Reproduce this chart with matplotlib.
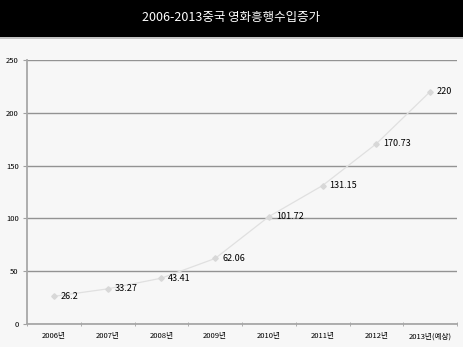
import matplotlib
matplotlib.use("Agg")
import matplotlib.pyplot as plt
from matplotlib.patches import Rectangle

plt.rcParams['font.family'] = ['Noto Sans CJK KR', 'DejaVu Sans']

categories = ['2006년', '2007년', '2008년', '2009년', '2010년', '2011년', '2012년', '2013년(예상)']
values = [26.2, 33.27, 43.41, 62.06, 101.72, 131.15, 170.73, 220]
labels = ['26.2', '33.27', '43.41', '62.06', '101.72', '131.15', '170.73', '220']
yticks = [0, 50, 100, 150, 200, 250]
title = '2006-2013중국 영화흥행수입증가'

W, H = 463, 347
fig = plt.figure(figsize=(W/100, H/100), dpi=100, facecolor='#f7f7f7')

# title band
fig.patches.append(Rectangle((0, 1 - 37/H), 1, 37/H, transform=fig.transFigure,
                             facecolor='black', edgecolor='none', zorder=0))
fig.patches.append(Rectangle((0, 1 - 39/H), 1, 2/H, transform=fig.transFigure,
                             facecolor='#c4c4c4', edgecolor='none', zorder=0))
fig.text(231/W, 1 - 17/H, title, color='white', fontsize=9, ha='center', va='center')

ax = fig.add_axes([27/W, 1 - 324/H, 430/W, (324 - 60)/H])
ax.set_facecolor('#f7f7f7')
x = list(range(len(categories)))
ax.plot(x, values, color='#e0e0e0', lw=0.9, marker='D', ms=2.8,
        markerfacecolor='#d8d8d8', markeredgecolor='#d8d8d8', zorder=3)
for xi, v, lab in zip(x, values, labels):
    ax.annotate(lab, (xi, v), xytext=(5, 0), textcoords='offset points',
                fontsize=6.5, va='center', ha='left', color='black', zorder=4)

ax.set_xlim(-0.5, len(categories) - 0.5)
ax.set_ylim(0, 250)
ax.set_yticks(yticks)
ax.set_yticklabels([str(t) for t in yticks], fontsize=5.5)
ax.set_xticks(x)
ax.set_xticklabels(categories, fontsize=5.5)
ax.tick_params(axis='x', length=0, pad=6)
ax.tick_params(axis='y', length=3, color='#a0a0a0', pad=3)
ax.set_xticks([i - 0.5 for i in range(len(categories) + 1)], minor=True)
ax.tick_params(axis='x', which='minor', length=3, direction='inout', color='#a0a0a0')
ax.grid(axis='y', color='#939393', lw=1.0)
ax.set_axisbelow(True)
for s in ['top', 'right']:
    ax.spines[s].set_visible(False)
for s in ['left', 'bottom']:
    ax.spines[s].set_color('#a8a8a8')
    ax.spines[s].set_linewidth(1.3)

fig.savefig('out.png', dpi=100, facecolor=fig.get_facecolor())
